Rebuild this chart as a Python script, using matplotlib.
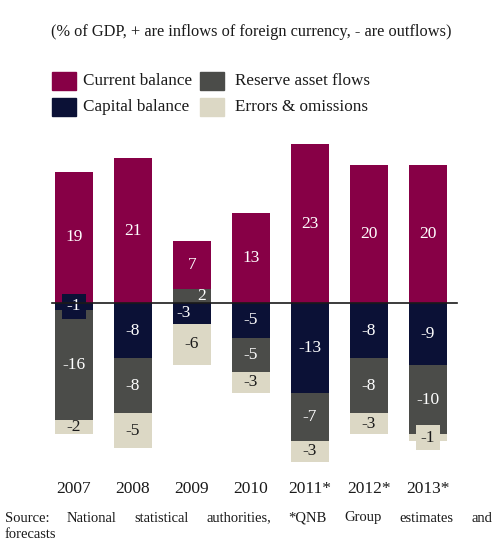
import matplotlib
matplotlib.use("Agg")
import matplotlib.pyplot as plt
from matplotlib.patches import Rectangle

years = ["2007", "2008", "2009", "2010", "2011*", "2012*", "2013*"]
current_balance = [19, 21, 7, 13, 23, 20, 20]
capital_balance = [-1, -8, -3, -5, -13, -8, -9]
reserve_flows = [-16, -8, 2, -5, -7, -8, -10]
errors_omissions = [-2, -5, -6, -3, -3, -3, -1]

series_names = ["Current balance", "Capital balance", "Reserve asset flows", "Errors & omissions"]
colors = {
    "Current balance": "#870046",
    "Capital balance": "#0B1136",
    "Reserve asset flows": "#4B4C49",
    "Errors & omissions": "#DCD8C5",
}
text_colors = {
    "Current balance": "white",
    "Capital balance": "white",
    "Reserve asset flows": "white",
    "Errors & omissions": "#1a1a1a",
}
values = {
    "Current balance": current_balance,
    "Capital balance": capital_balance,
    "Reserve asset flows": reserve_flows,
    "Errors & omissions": errors_omissions,
}
# stacking order away from zero (positive and negative sides separately)
stack_order = ["Capital balance", "Reserve asset flows", "Errors & omissions", "Current balance"]

W, H = 497, 544
fig = plt.figure(figsize=(W / 100, H / 100), dpi=100)
serif = ["Liberation Serif", "DejaVu Serif"]

ax = fig.add_axes([0, 0, 1, 1])
x0_px, step_px, zero_px, unit_px = 74.0, 59.0, 303.0, 6.9
ax.set_xlim((0 - x0_px) / step_px, (W - x0_px) / step_px)
ax.set_ylim((zero_px - H) / unit_px, zero_px / unit_px)
ax.axis("off")

xs = list(range(len(years)))
bar_w = 0.66
label_dx = {(2, "Reserve asset flows"): 0.17, (2, "Capital balance"): -0.15}

for i in xs:
    pos_base, neg_base = 0.0, 0.0
    for name in stack_order:
        v = values[name][i]
        if v >= 0:
            bottom = pos_base
            pos_base += v
        else:
            bottom = neg_base
            neg_base += v
        ax.bar(i, v, bottom=bottom, width=bar_w, color=colors[name], edgecolor="none", zorder=2)
        # thin segments get a label patch in the segment colour so the number stays legible
        box = None
        if abs(v) <= 1:
            box = dict(boxstyle="square,pad=0.25", facecolor=colors[name], edgecolor="none")
        ax.text(i + label_dx.get((i, name), 0), bottom + v / 2, f"{v}", ha="center", va="center",
                color=text_colors[name], fontsize=12.5, family=serif, zorder=4, bbox=box)

ax.axhline(0, xmin=52 / W, xmax=457 / W, color="#1a1a1a", lw=1.2, zorder=5)

for i, y in zip(xs, years):
    ax.text(i, (zero_px - 489) / unit_px, y, ha="center", va="center", fontsize=12.5,
            family=serif, color="#1a1a1a")


def ftext(px, py, s, **kw):
    return fig.text(px / W, 1 - py / H, s, family=serif, color="#1a1a1a", **kw)


ftext(251, 32, "(% of GDP, + are inflows of foreign currency, - are outflows)",
      ha="center", va="center", fontsize=11.8)

# legend
legend_layout = [
    ("Current balance", 52, 81, 83),
    ("Reserve asset flows", 200, 81, 235),
    ("Capital balance", 52, 107, 83),
    ("Errors & omissions", 200, 107, 235),
]
for name, sx, cy, tx in legend_layout:
    fig.patches.append(Rectangle((sx / W, 1 - (cy + 9) / H), 24 / W, 18 / H,
                                 transform=fig.transFigure, color=colors[name]))
    ftext(tx, cy, name, ha="left", va="center", fontsize=12.3)

# justified source line
words = ["Source:", "National", "statistical", "authorities,", "*QNB", "Group", "estimates", "and"]
left_px, right_px, line_y = 5, 492, 518
fig.canvas.draw()
renderer = fig.canvas.get_renderer()
objs = [ftext(0, line_y, w, ha="left", va="center", fontsize=10.5) for w in words]
widths = [o.get_window_extent(renderer).width for o in objs]
gap = (right_px - left_px - sum(widths)) / (len(words) - 1)
cur = left_px
for o, wd in zip(objs, widths):
    o.set_x(cur / W)
    cur += wd + gap
ftext(left_px, 534, "forecasts", ha="left", va="center", fontsize=10.5)

fig.savefig("out.png", dpi=100)
